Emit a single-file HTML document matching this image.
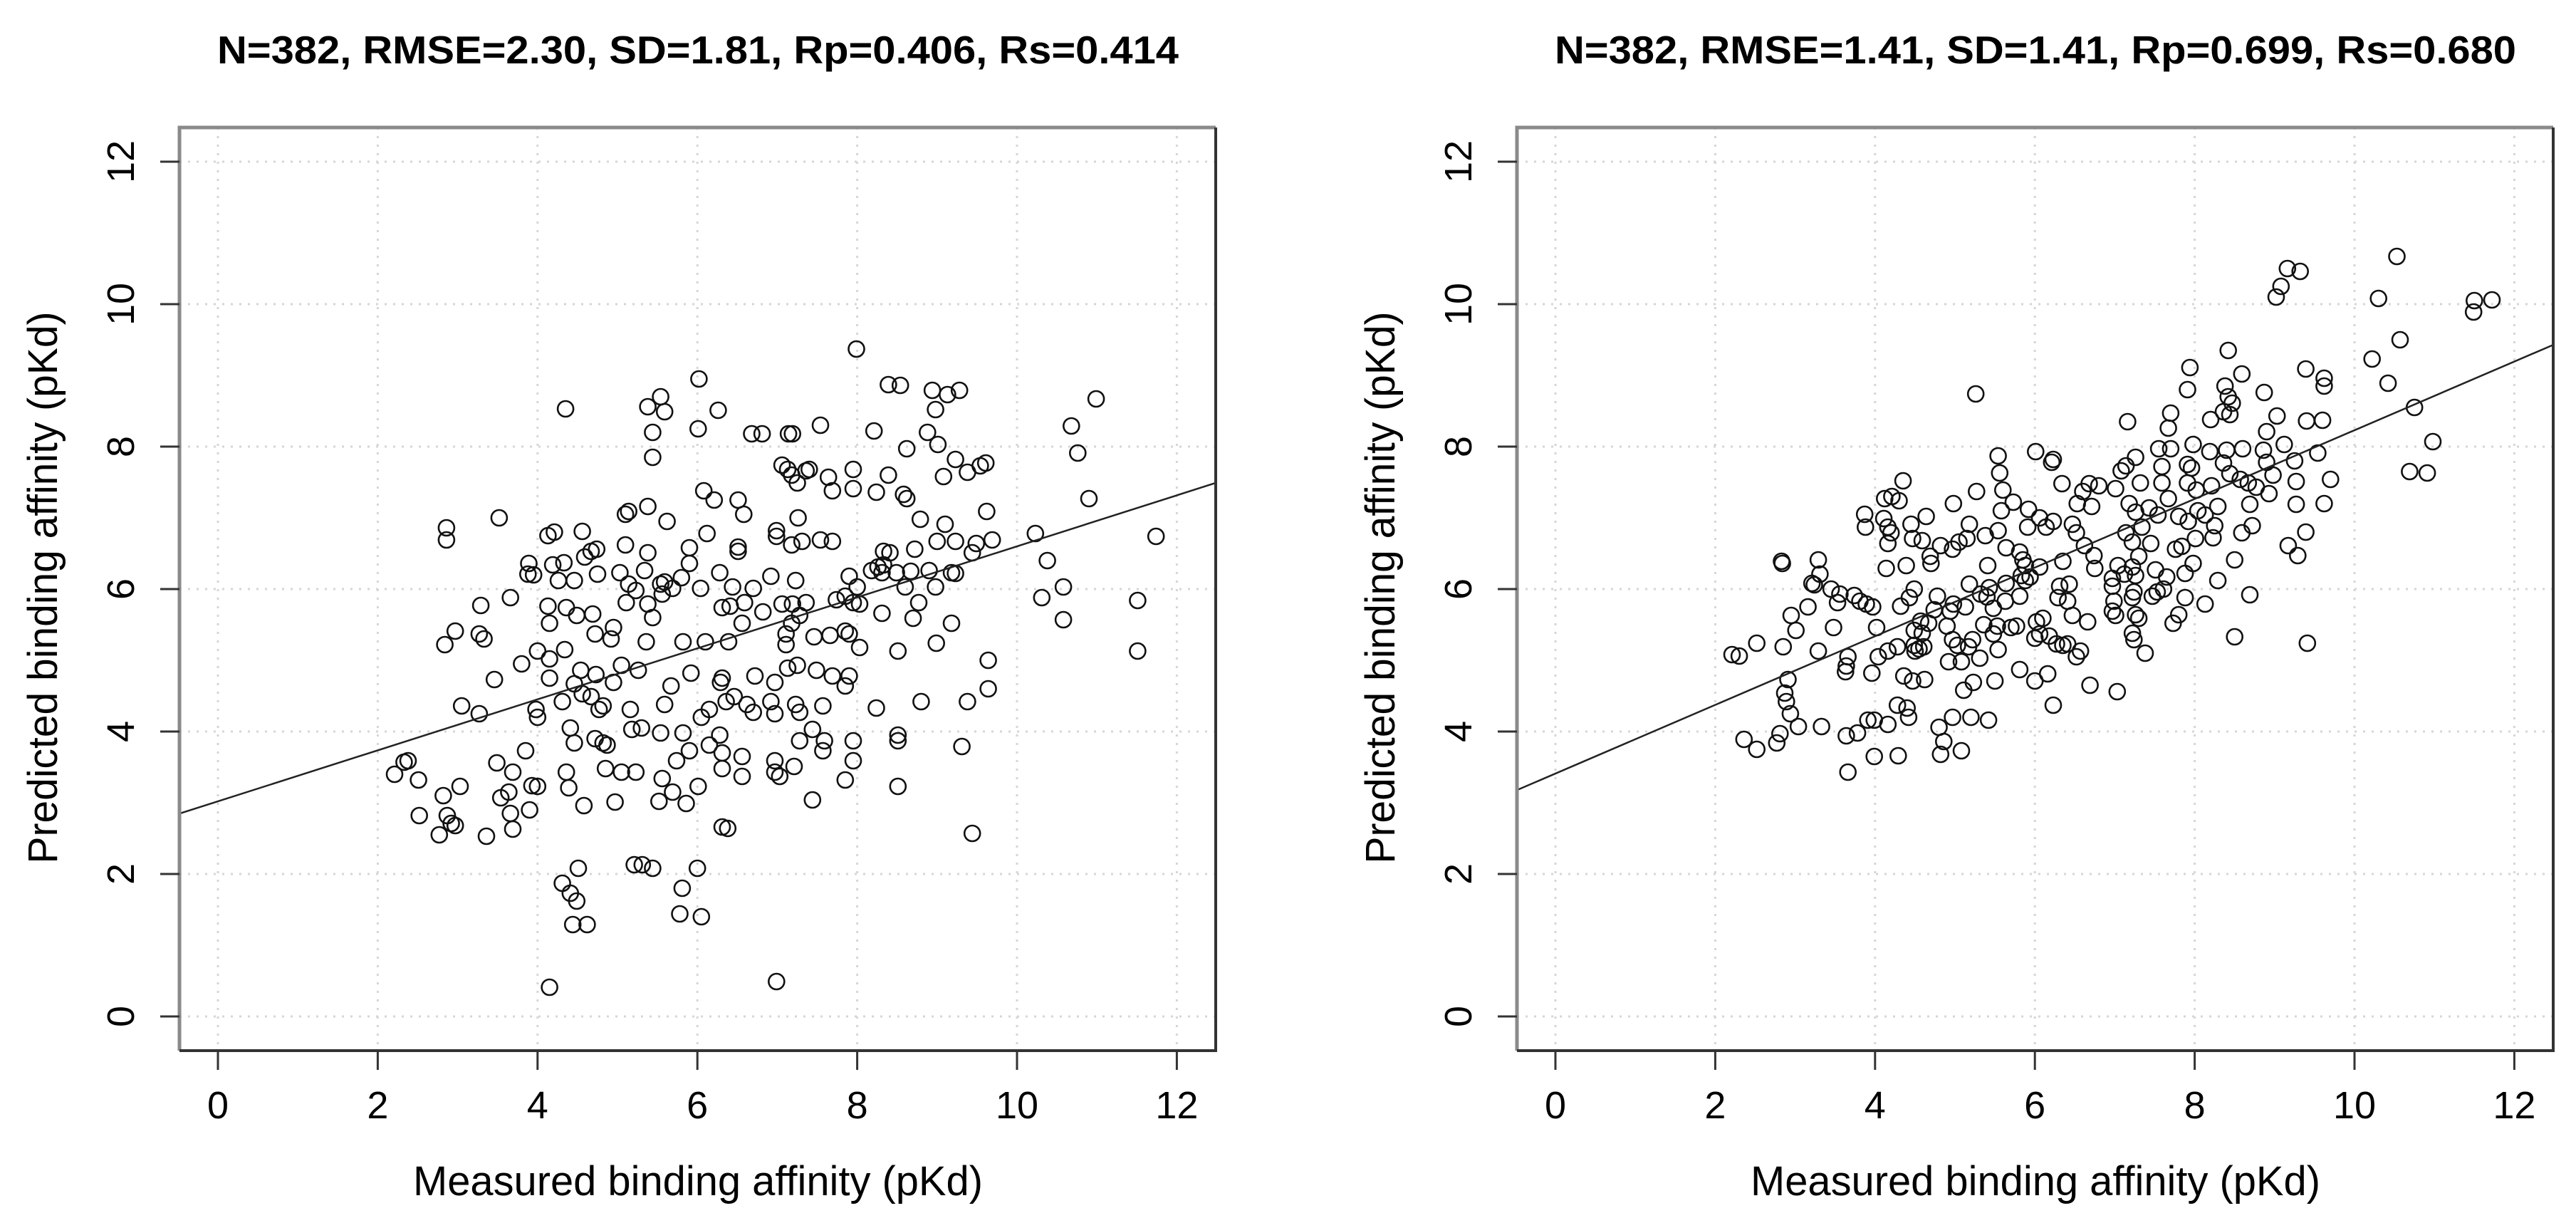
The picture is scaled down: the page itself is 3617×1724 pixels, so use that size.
<!DOCTYPE html>
<html><head><meta charset="utf-8"><style>
html,body{margin:0;padding:0;background:#fff;}
svg{display:block;}
text{font-family:"Liberation Sans",sans-serif;fill:#000;}
</style></head><body>
<svg id="chart" width="3617" height="1724" viewBox="0 0 3617 1724" xmlns="http://www.w3.org/2000/svg">
<rect x="0" y="0" width="3617" height="1724" fill="#fff"/>
</svg>
<script>
const tickValues = [0, 2, 4, 6, 8, 10, 12];
const titles = ["N=382, RMSE=2.30, SD=1.81, Rp=0.406, Rs=0.414", "N=382, RMSE=1.41, SD=1.41, Rp=0.699, Rs=0.680"];
const xAxisTitle = "Measured binding affinity (pKd)";
const yAxisTitle = "Predicted binding affinity (pKd)";
const fitIntercepts = [3.02, 3.41];
const fitSlopes = [0.358, 0.482];

const leftX = [7.99,6.02,8.39,8.54,8.94,9.28,9.13,8.98,10.99,4.35,5.54,5.38,6.26,10.68,5.59,6.01,5.44,6.68,6.81,7.14,7.19,7.54,8.21,8.88,9.01,8.62,5.44,10.76,7.06,7.13,7.36,7.40,7.64,7.95,9.23,9.61,9.54,7.18,7.25,8.39,9.08,9.38,7.95,7.69,8.58,8.62,8.24,10.90,6.08,6.21,6.51,6.58,5.38,5.14,5.10,3.52,5.62,7.26,8.79,9.10,9.62,2.86,2.86,4.13,4.21,4.56,4.67,4.59,4.74,5.10,5.38,5.90,6.12,6.51,6.51,6.99,6.99,7.31,7.18,7.54,7.69,8.33,8.41,8.33,8.72,9.00,9.23,9.44,9.69,10.23,11.74,9.49,10.38,3.89,4.33,4.19,3.88,3.95,4.26,4.46,4.75,5.03,5.34,5.90,6.28,5.80,5.59,7.23,6.92,7.90,8.18,8.26,8.31,8.49,8.67,8.90,9.18,9.23,5.14,5.23,5.54,5.56,5.69,6.04,6.44,6.70,8.00,8.60,8.98,10.58,10.31,11.51,3.29,3.66,4.13,4.36,5.11,5.38,6.31,6.41,6.59,7.06,7.19,7.36,7.74,7.95,7.85,8.03,5.44,6.56,6.82,7.18,7.28,8.31,8.70,8.77,10.58,9.18,4.15,4.49,4.69,4.95,4.72,2.97,3.27,3.33,2.84,4.00,4.34,4.92,5.36,5.82,6.10,6.39,7.11,7.11,7.46,7.66,7.90,7.85,8.51,8.99,8.03,11.51,4.15,4.54,5.05,4.95,5.26,5.92,7.13,7.25,7.49,7.69,7.90,9.64,3.46,3.80,4.15,4.46,4.73,5.67,6.31,6.29,6.72,6.97,7.85,9.64,4.56,4.67,4.82,4.77,3.05,3.27,3.98,4.00,4.31,5.16,5.18,5.30,5.59,6.05,6.15,6.36,6.46,6.62,6.70,6.92,6.97,7.23,7.28,7.57,8.24,8.80,9.38,4.41,4.72,4.46,4.82,4.87,5.54,5.82,6.15,6.28,6.31,7.28,7.44,7.59,7.57,7.95,8.51,8.51,9.31,2.21,2.33,2.38,2.51,3.49,3.85,3.69,3.54,3.64,3.66,3.69,3.90,3.93,4.00,2.82,3.03,2.52,2.77,2.87,2.92,2.97,3.36,4.36,4.39,4.58,4.97,4.85,5.05,5.23,5.56,5.69,5.52,5.74,5.86,5.90,6.01,6.31,6.31,6.38,6.56,6.56,6.97,7.03,6.97,7.21,7.44,7.85,7.95,8.51,9.44,4.31,4.51,4.41,4.49,4.44,4.62,5.21,5.31,5.44,6.00,5.81,5.78,6.05,4.15,6.99];
const leftY = [9.37,8.95,8.87,8.86,8.79,8.79,8.73,8.52,8.67,8.53,8.70,8.56,8.51,8.29,8.49,8.25,8.20,8.18,8.18,8.18,8.18,8.30,8.22,8.20,8.03,7.97,7.85,7.91,7.74,7.68,7.66,7.68,7.57,7.68,7.82,7.77,7.73,7.60,7.49,7.60,7.58,7.64,7.41,7.38,7.33,7.27,7.36,7.27,7.38,7.25,7.25,7.05,7.16,7.09,7.05,7.00,6.95,7.00,6.98,6.91,7.09,6.86,6.69,6.75,6.80,6.81,6.53,6.45,6.56,6.62,6.51,6.58,6.78,6.53,6.59,6.82,6.74,6.67,6.62,6.69,6.67,6.53,6.51,6.34,6.56,6.67,6.67,6.51,6.69,6.78,6.74,6.64,6.40,6.36,6.37,6.34,6.21,6.20,6.12,6.12,6.21,6.23,6.26,6.36,6.23,6.16,6.10,6.12,6.18,6.18,6.26,6.31,6.23,6.23,6.25,6.26,6.23,6.22,6.07,5.98,6.07,5.93,6.01,6.01,6.03,6.01,6.03,6.03,6.03,6.03,5.88,5.84,5.77,5.88,5.76,5.74,5.81,5.79,5.74,5.76,5.81,5.79,5.79,5.81,5.85,5.81,5.90,5.79,5.60,5.52,5.68,5.52,5.63,5.66,5.59,5.81,5.57,5.52,5.52,5.63,5.65,5.46,5.37,5.41,5.37,5.30,5.22,5.13,5.15,5.30,5.26,5.26,5.26,5.26,5.37,5.22,5.33,5.35,5.37,5.41,5.13,5.24,5.18,5.13,5.02,4.86,4.93,4.69,4.86,4.82,4.89,4.93,4.86,4.78,4.78,5.00,4.73,4.95,4.75,4.67,4.80,4.64,4.75,4.69,4.78,4.69,4.64,4.60,4.53,4.49,4.36,4.31,4.36,4.25,4.31,4.20,4.42,4.31,4.03,4.05,4.38,4.20,4.31,4.42,4.49,4.38,4.27,4.42,4.25,4.38,4.27,4.36,4.33,4.42,4.42,4.05,3.90,3.84,3.84,3.81,3.98,3.98,3.81,3.95,3.70,3.87,4.03,3.87,3.73,3.87,3.95,3.87,3.79,3.40,3.57,3.59,3.32,3.56,3.73,3.43,3.07,3.15,2.85,2.63,2.90,3.24,3.23,3.10,3.23,2.82,2.55,2.82,2.71,2.68,2.53,3.43,3.21,2.96,3.01,3.48,3.43,3.43,3.34,3.15,3.02,3.59,2.99,3.73,3.23,3.48,2.66,2.64,3.37,3.65,3.43,3.37,3.59,3.51,3.04,3.32,3.59,3.23,2.57,1.87,2.08,1.73,1.62,1.29,1.29,2.13,2.13,2.08,2.08,1.80,1.44,1.40,0.41,0.49];

const rightX = [10.53,9.16,9.32,9.08,9.02,10.30,11.50,11.72,11.49,10.57,8.42,10.22,7.94,8.59,9.39,9.62,9.62,10.42,8.38,7.91,5.26,8.87,8.42,8.47,8.36,8.44,10.75,8.20,7.16,7.70,9.03,9.40,9.60,8.90,7.67,10.98,7.98,7.55,7.70,8.40,8.60,8.86,9.12,8.19,6.01,5.54,6.23,6.21,7.26,7.14,9.54,8.90,9.25,8.36,7.91,7.59,7.96,10.69,10.91,5.56,7.08,8.44,9.70,8.98,8.57,4.35,9.27,7.91,6.34,7.32,7.59,6.68,6.80,8.21,8.67,8.77,5.27,5.60,7.01,6.60,8.02,8.93,4.12,4.21,4.30,4.98,5.73,6.53,6.71,7.18,7.43,7.67,9.62,9.27,8.69,8.29,8.04,3.87,4.11,4.64,5.58,5.92,6.06,6.23,6.47,7.26,7.54,7.80,7.92,8.13,3.88,4.16,4.20,4.45,5.18,5.54,5.91,6.14,6.52,7.14,7.34,8.25,8.72,9.39,4.16,4.47,4.59,4.82,5.05,5.15,5.38,6.62,7.22,7.45,8.01,8.23,8.59,9.17,9.29,4.69,4.97,5.64,5.81,5.85,6.35,6.74,7.30,7.76,7.84,2.83,2.84,3.29,4.70,4.14,4.39,5.41,5.88,6.06,6.75,7.04,7.12,7.22,7.51,7.98,8.50,3.31,3.21,3.45,3.56,5.83,5.94,6.97,7.26,7.65,7.88,8.29,3.24,3.74,4.49,5.18,5.43,5.64,5.88,6.31,6.43,6.97,7.24,7.53,7.61,8.69,3.81,3.89,3.97,3.53,3.16,4.43,4.78,4.98,5.32,5.40,5.63,5.81,6.29,6.41,6.99,7.22,7.47,7.88,8.13,4.32,4.74,4.94,5.13,5.48,6.97,7.26,7.80,2.95,3.01,3.48,4.02,4.57,4.67,4.49,4.59,4.90,5.36,5.53,5.70,5.77,6.02,6.10,6.47,6.66,7.01,7.30,7.73,5.48,6.06,6.18,7.22,8.50,9.41,2.52,2.21,2.30,2.85,3.29,3.66,3.64,3.63,4.04,4.16,4.28,4.49,4.50,4.55,4.61,4.97,5.03,5.22,5.17,5.54,6.00,6.27,6.35,6.41,6.52,6.57,7.24,7.38,3.96,4.92,5.08,5.31,2.91,5.81,6.00,6.16,6.69,7.03,4.36,4.47,4.62,5.23,5.50,5.11,2.87,2.89,2.94,3.04,2.81,2.36,2.52,2.77,3.33,3.64,3.78,3.91,3.99,4.16,4.28,4.40,4.42,4.80,4.97,5.20,5.42,6.23,4.86,4.82,5.08,3.99,4.29,3.66];
const rightY = [10.67,10.50,10.46,10.25,10.10,10.08,10.05,10.06,9.89,9.50,9.35,9.23,9.11,9.02,9.09,8.96,8.85,8.89,8.85,8.80,8.74,8.76,8.70,8.61,8.49,8.45,8.55,8.38,8.35,8.47,8.43,8.36,8.37,8.21,8.26,8.07,8.03,7.97,7.97,7.95,7.97,7.95,8.03,7.93,7.93,7.87,7.82,7.78,7.85,7.73,7.91,7.78,7.80,7.77,7.75,7.72,7.70,7.65,7.63,7.63,7.66,7.62,7.54,7.60,7.54,7.52,7.51,7.49,7.48,7.49,7.49,7.48,7.45,7.45,7.49,7.43,7.37,7.39,7.41,7.37,7.39,7.34,7.27,7.30,7.24,7.20,7.22,7.20,7.16,7.20,7.14,7.27,7.20,7.19,7.19,7.16,7.10,7.05,6.99,7.02,7.10,7.12,7.00,6.95,6.91,7.08,7.04,7.02,6.95,7.04,6.87,6.87,6.79,6.91,6.91,6.82,6.87,6.87,6.79,6.79,6.87,6.89,6.89,6.80,6.64,6.71,6.68,6.61,6.66,6.71,6.75,6.61,6.66,6.64,6.71,6.72,6.79,6.61,6.47,6.46,6.56,6.58,6.52,6.41,6.39,6.47,6.46,6.56,6.60,6.39,6.36,6.41,6.36,6.29,6.33,6.33,6.33,6.31,6.29,6.33,6.21,6.31,6.27,6.36,6.41,6.21,6.08,6.00,5.93,6.19,6.17,6.15,6.19,6.17,6.22,6.12,6.06,5.91,6.00,6.07,6.02,6.08,6.12,6.04,6.07,6.04,5.96,5.96,6.00,5.92,5.83,5.79,5.75,5.81,5.75,5.88,5.90,5.79,5.93,5.89,5.83,5.90,5.88,5.83,5.83,5.88,5.90,5.88,5.79,5.76,5.71,5.69,5.75,5.73,5.69,5.64,5.64,5.63,5.42,5.46,5.46,5.55,5.52,5.42,5.38,5.48,5.50,5.48,5.46,5.48,5.54,5.59,5.63,5.54,5.63,5.59,5.52,5.37,5.37,5.34,5.38,5.33,5.24,5.24,5.08,5.06,5.19,5.13,5.05,4.92,4.84,5.05,5.13,5.19,5.21,5.13,5.16,5.19,5.29,5.21,5.29,5.19,5.15,5.31,5.23,5.21,5.23,5.05,5.13,5.29,5.10,4.82,4.98,4.98,5.03,4.73,4.87,4.71,4.81,4.65,4.56,4.78,4.71,4.73,4.69,4.71,4.58,4.54,4.42,4.25,4.07,3.97,3.89,3.75,3.84,4.07,3.94,3.98,4.16,4.16,4.10,4.37,4.33,4.20,4.06,4.20,4.20,4.16,4.37,3.86,3.68,3.73,3.65,3.66,3.43];

const NS = "http://www.w3.org/2000/svg";
const svg = document.getElementById("chart");
function mk(tag, attrs, parent) {
  const e = document.createElementNS(NS, tag);
  for (const k in attrs) e.setAttribute(k, attrs[k]);
  parent.appendChild(e);
  return e;
}
const BOX = {l: 252, r: 1707, t: 179, b: 1475};
const DMIN = -0.48, DMAX = 12.48;
function xScale(v) { return 306 + v * 112.2; }
function yScale(v) { return 1427 - v * 100; }

function drawPanel(idx, offX, xs, ys) {
  const g = mk("g", {transform: "translate(" + offX + ",0)"}, svg);
  
  
  tickValues.forEach(t => {
    const gx = mk("line", {x1: xScale(t), x2: xScale(t), y1: BOX.t, y2: BOX.b, stroke: "#d6d6d6", "stroke-width": 3, "stroke-dasharray": "3,9"}, g);
    
    
    const gy = mk("line", {x1: BOX.l, x2: BOX.r, y1: yScale(t), y2: yScale(t), stroke: "#d6d6d6", "stroke-width": 3, "stroke-dasharray": "3,9"}, g);
    
    
  });
  for (let i = 0; i < xs.length; i++) {
    const c = mk("circle", {cx: xScale(xs[i]).toFixed(1), cy: yScale(ys[i]).toFixed(1), r: 11, fill: "none", stroke: "#111", "stroke-width": 2.6}, g);
    
    
  }
  const a = fitIntercepts[idx], s = fitSlopes[idx];
  const fl = mk("line", {x1: xScale(DMIN), y1: yScale(a + s * DMIN), x2: xScale(DMAX), y2: yScale(a + s * DMAX), stroke: "#222", "stroke-width": 2.5}, g);
  
  
  const b1 = mk("path", {d: `M${BOX.l},${BOX.b} L${BOX.l},${BOX.t} L${BOX.r},${BOX.t}`, fill: "none", stroke: "#8a8a8a", "stroke-width": 5}, g);
  
  
  const b2 = mk("path", {d: `M${BOX.l},${BOX.b} L${BOX.r},${BOX.b} L${BOX.r},${BOX.t}`, fill: "none", stroke: "#333", "stroke-width": 4}, g);
  
  
  tickValues.forEach(t => {
    const tx = mk("line", {x1: xScale(t), x2: xScale(t), y1: BOX.b, y2: BOX.b + 27, stroke: "#333", "stroke-width": 3}, g);
    
    
    const lx = mk("text", {x: xScale(t), y: 1570, "text-anchor": "middle", "font-size": 54}, g);
    
    
    lx.textContent = t;
    const ty = mk("line", {x1: BOX.l - 27, x2: BOX.l, y1: yScale(t), y2: yScale(t), stroke: "#333", "stroke-width": 3}, g);
    
    
    const ly = mk("text", {x: 0, y: 0, "text-anchor": "middle", "font-size": 54, transform: `translate(188,${yScale(t)}) rotate(-90)`}, g);
    
    
    ly.textContent = t;
  });
  const title = mk("text", {x: 980, y: 89, "text-anchor": "middle", "font-size": 55, "font-weight": "bold", textLength: 1350, lengthAdjust: "spacingAndGlyphs"}, g);
  
  
  title.textContent = titles[idx];
  const xt = mk("text", {x: 980, y: 1678, "text-anchor": "middle", "font-size": 58, textLength: 800, lengthAdjust: "spacingAndGlyphs"}, g);
  
  
  xt.textContent = xAxisTitle;
  const yt = mk("text", {x: 0, y: 0, "text-anchor": "middle", "font-size": 58, textLength: 775, lengthAdjust: "spacingAndGlyphs", transform: "translate(80,825) rotate(-90)"}, g);
  
  
  yt.textContent = yAxisTitle;
}
drawPanel(0, 0, leftX, leftY);
drawPanel(1, 1878, rightX, rightY);
</script>
</body></html>
